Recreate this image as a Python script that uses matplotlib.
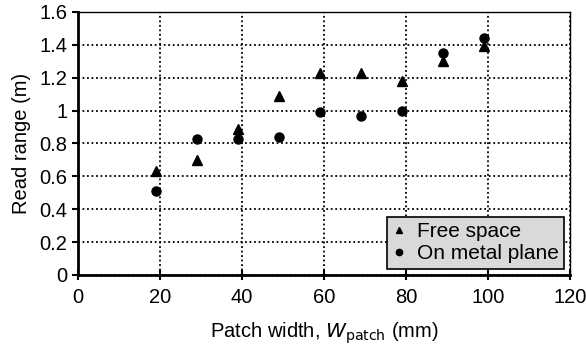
import matplotlib
matplotlib.use('Agg')
import matplotlib.pyplot as plt

plt.rcParams['font.family'] = ['Liberation Sans', 'DejaVu Sans']

# patch width (mm) and measured read range (m)
width_free = [19, 29, 39, 49, 59, 69, 79, 89, 99]
range_free = [0.63, 0.70, 0.89, 1.09, 1.23, 1.23, 1.18, 1.30, 1.39]
width_metal = [19, 29, 39, 49, 59, 69, 79, 89, 99]
range_metal = [0.51, 0.83, 0.83, 0.84, 0.99, 0.97, 1.00, 1.35, 1.44]

fig = plt.figure(figsize=(5.86, 3.52), dpi=100)
ax = fig.add_axes([0.133, 0.219, 0.84, 0.747])

ax.plot(width_free, range_free, linestyle='none', marker='^', color='black',
        markersize=6.5, label='Free space', zorder=3)
ax.plot(width_metal, range_metal, linestyle='none', marker='o', color='black',
        markersize=6.5, label='On metal plane', zorder=3)

ax.set_xlim(0, 120)
ax.set_ylim(0, 1.6)
ax.set_xticks([0, 20, 40, 60, 80, 100, 120])
ax.set_yticks([0, 0.2, 0.4, 0.6, 0.8, 1, 1.2, 1.4, 1.6])
ax.set_yticklabels(['0', '0.2', '0.4', '0.6', '0.8', '1', '1.2', '1.4', '1.6'])
ax.grid(True, color='black', linestyle=(0, (1, 1.5)), linewidth=1.3)

for side in ['left', 'bottom']:
    ax.spines[side].set_linewidth(2)
for side in ['top', 'right']:
    ax.spines[side].set_linewidth(1)

ax.tick_params(axis='x', direction='inout', length=7, width=1.5, labelsize=14.5, pad=6)
ax.tick_params(axis='y', direction='out', length=4, width=1.5, labelsize=14.5)

ax.set_xlabel(r'Patch width, $W_{\mathrm{patch}}$ (mm)', fontsize=14.5, labelpad=10)
ax.set_ylabel('Read range (m)', fontsize=14.5, labelpad=6)

leg = ax.legend(loc='lower right', fontsize=15, frameon=True, fancybox=False,
                handlelength=0.7, handletextpad=0.5, borderpad=0.25,
                labelspacing=0.15, markerscale=0.7, borderaxespad=0.3)
leg.get_frame().set_facecolor('#d9d9d9')
leg.get_frame().set_edgecolor('black')
leg.get_frame().set_alpha(1)
leg.get_frame().set_linewidth(1.2)

fig.savefig('out.png', dpi=100)
